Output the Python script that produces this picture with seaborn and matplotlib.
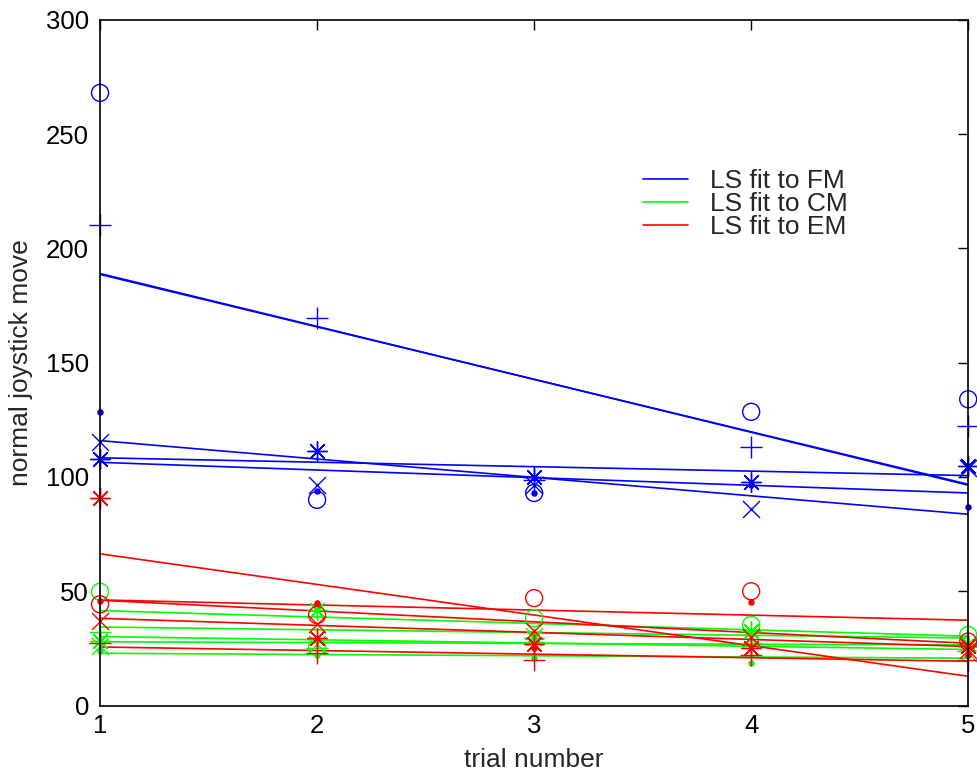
import numpy as np
import matplotlib
matplotlib.use("Agg")
import matplotlib.pyplot as plt
import seaborn as sns

sns.set_style("white")
plt.rcParams['font.family'] = ['Liberation Sans', 'DejaVu Sans']

trials = [1, 2, 3, 4, 5]
marker_types = ['o', '+', '.', 'x', '*']

# FM (blue)
fm_o = [268, 90, 93, 128.5, 134]
fm_plus = [210, 169.5, 98.5, 113, 122.5]
fm_dot = [128.5, 94, 93, 96.5, 87]
fm_x = [115.5, 96.5, 96.5, 86, 104]
fm_star = [108, 111.5, 100, 98, 105]

# CM (green)
cm_o = [49.8, 25.5, 38.2, 35.3, 30.9]
cm_plus = [32.3, 25, 28, 27.5, 24]
cm_dot = [24, 22.3, 21, 18.5, 23.2]
cm_x = [26, 27, 30.5, 29.5, 23]
cm_star = [28.4, 42, 29.6, 32.8, 27]

# EM (red)
em_o = [44.3, 39.6, 47, 50, 28]
em_plus = [27.4, 23, 20, 22.1, 20]
em_dot = [45.8, 45, 25, 45.5, 22]
em_x = [37, 35.7, 32.8, 30.1, 24.4]
em_star = [90.7, 29.5, 26.8, 25, 26]

groups = [
    ("FM", (0, 0, 1), [fm_o, fm_plus, fm_dot, fm_x, fm_star]),
    ("CM", (0, 1, 0), [cm_o, cm_plus, cm_dot, cm_x, cm_star]),
    ("EM", (1, 0, 0), [em_o, em_plus, em_dot, em_x, em_star]),
]

x_ticks = [1, 2, 3, 4, 5]
y_ticks = [0, 50, 100, 150, 200, 250, 300]

fig = plt.figure(figsize=(9.77, 7.74), dpi=100)
ax = fig.add_axes([0.1024, 0.0884, 0.8886, 0.8861])

mstyle = {
    'o': dict(marker='o', s=150, facecolors='none', linewidths=1.0),
    '+': dict(marker='+', s=230, linewidths=1.0),
    '.': dict(marker='o', s=22, linewidths=0),
    'x': dict(marker='x', s=150, linewidths=1.0),
    '*': dict(marker=(8, 2, 0), s=200, linewidths=1.0),
}

for name, col, series in groups:
    for i, (m, vals) in enumerate(zip(marker_types, series)):
        kw = dict(mstyle[m])
        kw['alpha'] = 1
        kw['clip_on'] = False
        kw['zorder'] = 3
        if m == 'o':
            kw['edgecolors'] = col
        lk = dict(lw=1.2, color=col)
        if i == 0:
            lk['label'] = f"LS fit to {name}"
        sns.regplot(x=np.array(trials, float), y=np.array(vals, float), ax=ax,
                    ci=None, color=col, marker=kw.pop('marker'),
                    scatter_kws=kw, line_kws=lk, truncate=True)

ax.set_xlim(1, 5)
ax.set_ylim(0, 300)
ax.set_xticks(x_ticks)
ax.set_yticks(y_ticks)
ax.set_xlabel("trial number", fontsize=19, labelpad=7)
ax.set_ylabel("normal joystick move", fontsize=19, labelpad=9)
ax.tick_params(direction='in', length=7, width=1, labelsize=18.5,
               top=True, right=True, pad=8, colors='black')
ax.tick_params(axis='x', pad=6)
for sp in ax.spines.values():
    sp.set_visible(True)
    sp.set_color('black')
    sp.set_linewidth(1.2)
    sp.set_zorder(4)

leg = ax.legend(loc='upper left', bbox_to_anchor=(0.6256, 0.782), frameon=False,
                fontsize=19, handlelength=1.7, handletextpad=0.85,
                labelspacing=-0.04, borderaxespad=0, borderpad=0)

fig.savefig("out.png", dpi=100)
